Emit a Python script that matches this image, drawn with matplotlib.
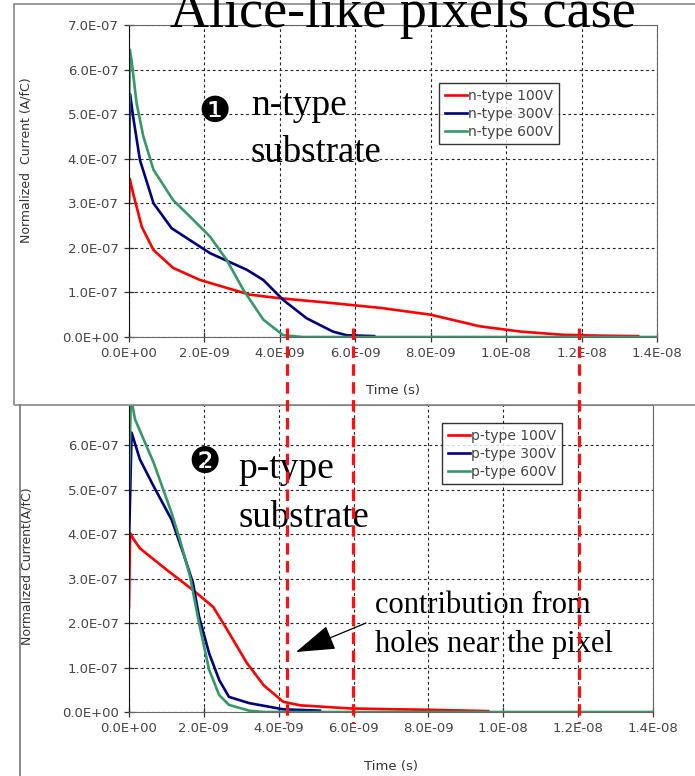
import numpy as np
import matplotlib
matplotlib.use("Agg")
import matplotlib.pyplot as plt
from matplotlib.patches import Rectangle
from matplotlib.lines import Line2D
from matplotlib.ticker import FormatStrFormatter, MultipleLocator
from matplotlib.transforms import blended_transform_factory

# ---- data (time in ns, current in 1e-7 A/fC) ----
n100_t = [0, 0.02, 0.11, 0.34, 0.65, 1.17, 1.88, 2.76, 3.2, 4.0, 5.4, 6.7, 8.0, 9.3, 10.4, 11.5, 12.5, 13.5]
n100_i = [3.0, 3.55, 3.22, 2.47, 1.95, 1.55, 1.28, 1.06, 0.95, 0.87, 0.76, 0.65, 0.50, 0.24, 0.12, 0.05, 0.03, 0.02]
n300_t = [0, 0.03, 0.11, 0.29, 0.65, 1.13, 2.15, 3.12, 3.56, 4.09, 4.71, 5.41, 5.77, 6.5]
n300_i = [4.0, 5.45, 4.94, 3.97, 3.0, 2.44, 1.88, 1.51, 1.28, 0.83, 0.42, 0.12, 0.04, 0.02]
n600_t = [0, 0.02, 0.07, 0.2, 0.38, 0.65, 1.17, 1.62, 2.15, 2.59, 3.03, 3.56, 4.09, 4.6, 14.0]
n600_i = [4.5, 6.45, 6.2, 5.25, 4.5, 3.75, 3.07, 2.7, 2.25, 1.73, 1.06, 0.39, 0.04, 0.0, 0.0]

p100_t = [0, 0.03, 0.11, 0.29, 1.0, 1.71, 2.25, 2.6, 3.15, 3.6, 4.12, 4.57, 5.9, 7.2, 8.0, 9.6]
p100_i = [2.35, 4.02, 3.9, 3.68, 3.2, 2.74, 2.36, 1.88, 1.1, 0.6, 0.23, 0.15, 0.08, 0.06, 0.05, 0.02]
p300_t = [0, 0.07, 0.29, 0.66, 1.14, 1.45, 1.71, 1.87, 2.14, 2.41, 2.67, 3.21, 4.12, 5.1]
p300_i = [3.8, 6.28, 5.68, 5.07, 4.32, 3.57, 2.9, 2.15, 1.32, 0.72, 0.34, 0.2, 0.06, 0.03]
p600_t = [0, 0.05, 0.16, 0.66, 1.14, 1.36, 1.63, 1.87, 2.14, 2.41, 2.67, 3.21, 3.6, 14.0]
p600_i = [5.0, 7.1, 6.58, 5.6, 4.47, 3.87, 3.05, 2.0, 0.95, 0.38, 0.16, 0.03, 0.0, 0.0]

n_labels = ["n-type 100V", "n-type 300V", "n-type 600V"]
p_labels = ["p-type 100V", "p-type 300V", "p-type 600V"]
marker_times_ns = [4.19, 5.94, 11.93]   # red dashed guide lines

colors = ["#ff0000", "#000080", "#339966"]
W, H = 695, 776


def fpos(x, y):
    # pixel position (from top-left) -> figure fraction
    return x / W, 1 - y / H


def style_axes(ax, ytop, ylabel, ylab_y):
    ax.set_xlim(0, 1.4e-8)
    ax.set_ylim(0, ytop)
    ax.xaxis.set_major_locator(MultipleLocator(2e-9))
    ax.yaxis.set_major_locator(MultipleLocator(1e-7))
    ax.xaxis.set_major_formatter(FormatStrFormatter("%.1E"))
    ax.yaxis.set_major_formatter(FormatStrFormatter("%.1E"))
    ax.grid(True, color="#222222", linestyle=(0, (2.5, 2.5)), linewidth=0.8)
    ax.tick_params(direction="inout", length=7, width=0.9, colors="#333333",
                   labelsize=9.5, labelcolor="#444444", pad=4)
    for s in ["top", "right", "bottom"]:
        ax.spines[s].set_color("#666666")
    ax.spines["left"].set_color("#111111")
    ax.set_xlabel("Time (s)", fontsize=9.5, color="#333333")
    ax.set_ylabel(ylabel, fontsize=9, color="#333333")
    ax.xaxis.set_label_coords(0.5, -0.15)
    ax.yaxis.set_label_coords(-0.182, ylab_y)


fig = plt.figure(figsize=(W / 100, H / 100), dpi=100)
plt.rcParams["font.family"] = ["DejaVu Sans"]

ax1 = fig.add_axes([129 / W, 1 - 337 / H, 528 / W, 312 / H])
ax2 = fig.add_axes([129 / W, 1 - 712 / H, 524 / W, 307 / H])

for t, i, c, lab in zip([n100_t, n300_t, n600_t], [n100_i, n300_i, n600_i], colors, n_labels):
    ax1.plot(np.array(t) * 1e-9, np.array(i) * 1e-7, color=c, lw=1.9, label=lab)
for t, i, c, lab in zip([p100_t, p300_t, p600_t], [p100_i, p300_i, p600_i], colors, p_labels):
    ax2.plot(np.array(t) * 1e-9, np.array(i) * 1e-7, color=c, lw=1.9, label=lab)

style_axes(ax1, 7e-7, "Normalized  Current (A/fC)", 0.567)
style_axes(ax2, 6.9e-7, "Normalized Current(A/fC)", 0.476)
ax2.xaxis.set_label_coords(0.5, -0.155)

for ax, xpx, ypx in [(ax1, 439, 83), (ax2, 442, 423)]:
    leg = ax.legend(loc="upper left", bbox_to_anchor=fpos(xpx, ypx),
                    bbox_transform=fig.transFigure, fontsize=10, frameon=True,
                    fancybox=False, edgecolor="black", handlelength=1.6,
                    handletextpad=0.1, labelspacing=0.3, borderpad=0.4,
                    borderaxespad=0)
    leg.get_frame().set_linewidth(1.0)
    for txt in leg.get_texts():
        txt.set_color("#444444")

# outer panel borders
fig.patches.append(Rectangle(fpos(14, 405), 700 / W, 401 / H, transform=fig.transFigure,
                             fill=False, edgecolor="#888888", lw=1.2))
fig.lines.append(Line2D([20 / W, 20 / W], [1 - 405 / H, 0], transform=fig.transFigure,
                        color="#777777", lw=1.2))

# red dashed guide lines spanning both charts
trans = blended_transform_factory(ax1.transData, fig.transFigure)
for tm in marker_times_ns:
    fig.lines.append(Line2D([tm * 1e-9, tm * 1e-9], [1 - 328 / H, 1 - 723 / H],
                            transform=trans, color="#ff1010", lw=2.3,
                            linestyle=(0, (3.6, 2.0)), zorder=5))

# title (clipped at top as in the slide)
fig.text(*fpos(403, 27), "Alice-like pixels case", family="Liberation Serif",
         fontsize=39, ha="center", va="baseline")

serif = "Liberation Serif"
fig.text(*fpos(215, 112), "\u2776", family="DejaVu Sans", fontsize=26, ha="center", va="center")
fig.text(*fpos(251, 115), "n-type", family=serif, fontsize=27, va="baseline")
fig.text(*fpos(251, 162), "substrate", family=serif, fontsize=26.5, va="baseline")

fig.text(*fpos(205, 463), "\u2777", family="DejaVu Sans", fontsize=26, ha="center", va="center")
fig.text(*fpos(238, 478), "p-type", family=serif, fontsize=27, va="baseline")
fig.text(*fpos(238, 527), "substrate", family=serif, fontsize=26.5, va="baseline")

fig.text(*fpos(375, 613), "contribution from", family=serif, fontsize=22, va="baseline")
fig.text(*fpos(375, 652), "holes near the pixel", family=serif, fontsize=22, va="baseline")

ax2.annotate("", xy=fpos(296, 652), xycoords="figure fraction",
             xytext=fpos(366, 623), textcoords="figure fraction",
             arrowprops=dict(arrowstyle="-|>,head_length=2.5,head_width=0.8",
                             mutation_scale=10, color="black", lw=0.9,
                             shrinkA=0, shrinkB=0))

fig.savefig("out.png", dpi=100)
